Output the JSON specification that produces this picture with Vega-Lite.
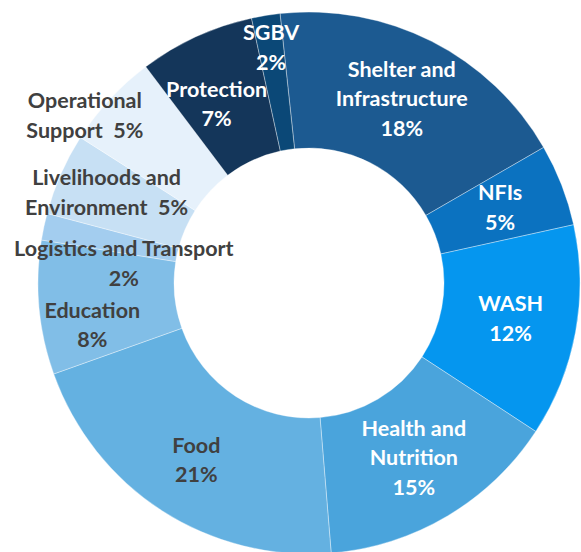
{
  "$schema": "https://vega.github.io/schema/vega-lite/v6.json",
  "width": 581,
  "height": 552,
  "autosize": {"type": "none"},
  "padding": 0,
  "background": "white",
  "view": {"stroke": null},
  "data": {
    "values": [
      {"order": 1, "category": "Shelter and Infrastructure", "value": 18.4, "label": "Shelter and\nInfrastructure\n18%"},
      {"order": 2, "category": "NFIs", "value": 4.9, "label": "NFIs\n5%"},
      {"order": 3, "category": "WASH", "value": 12.7, "label": "WASH\n12%"},
      {"order": 4, "category": "Health and Nutrition", "value": 14.5, "label": "Health and\nNutrition\n15%"},
      {"order": 5, "category": "Food", "value": 20.9, "label": "Food\n21%"},
      {"order": 6, "category": "Education", "value": 8.0, "label": "Education\n8%"},
      {"order": 7, "category": "Logistics and Transport", "value": 1.6, "label": "Logistics and Transport\n2%"},
      {"order": 8, "category": "Livelihoods and Environment", "value": 4.9, "label": "Livelihoods and\nEnvironment\u00a0\u00a05%"},
      {"order": 9, "category": "Operational Support", "value": 5.7, "label": "Operational\nSupport\u00a0\u00a05%"},
      {"order": 10, "category": "Protection", "value": 6.9, "label": "Protection\n7%"},
      {"order": 11, "category": "SGBV", "value": 1.7, "label": "SGBV\n2%"}
    ]
  },
  "encoding": {
    "theta": {"field": "value", "type": "quantitative", "stack": true, "scale": {"range": [-0.107, 6.176]}},
    "order": {"field": "order", "type": "quantitative"},
    "x": {"value": 309},
    "y": {"value": 283}
  },
  "layer": [
    {
      "mark": {"type": "arc", "outerRadius": 271, "innerRadius": 135, "stroke": "#ffffff", "strokeWidth": 0.6, "strokeOpacity": 0.6},
      "encoding": {
        "color": {
          "field": "category",
          "type": "nominal",
          "legend": null,
          "scale": {
            "domain": ["Shelter and Infrastructure", "NFIs", "WASH", "Health and Nutrition", "Food", "Education", "Logistics and Transport", "Livelihoods and Environment", "Operational Support", "Protection", "SGBV"],
            "range": ["#1c5a91", "#0b72c0", "#0596ef", "#4aa4dc", "#64b1e1", "#81bee7", "#a3cdef", "#c7e0f4", "#e6f1fb", "#14365a", "#0b4877"]
          }
        }
      }
    },
    {
      "mark": {
        "type": "text",
        "font": "Lato",
        "fontWeight": "bold",
        "fontSize": 21.5,
        "lineBreak": "\n",
        "lineHeight": 29.5,
        "align": "center",
        "baseline": "middle",
        "dy": {"expr": "-(length(split(datum.label, '\\n')) - 1) * 14.75"},
        "radius": {"expr": "datum.category === 'SGBV' ? 237 : datum.category === 'Education' ? 221 : datum.category === 'Logistics and Transport' ? 186 : datum.category === 'Livelihoods and Environment' ? 221 : datum.category === 'Operational Support' ? 279 : datum.category === 'Protection' ? 200 : datum.category === 'Food' ? 211 : 205"},
        "thetaOffset": {"expr": "datum.category === 'Education' ? -0.106 : datum.category === 'Logistics and Transport' ? -0.113 : datum.category === 'Operational Support' ? -0.108 : datum.category === 'Protection' ? -0.05 : datum.category === 'Food' ? -0.01 : 0"}
      },
      "encoding": {
        "text": {"field": "label", "type": "nominal"},
        "color": {
          "condition": {"test": "indexof(['Food','Education','Logistics and Transport','Livelihoods and Environment','Operational Support'], datum.category) >= 0", "value": "#404040"},
          "value": "#ffffff"
        }
      }
    }
  ]
}
